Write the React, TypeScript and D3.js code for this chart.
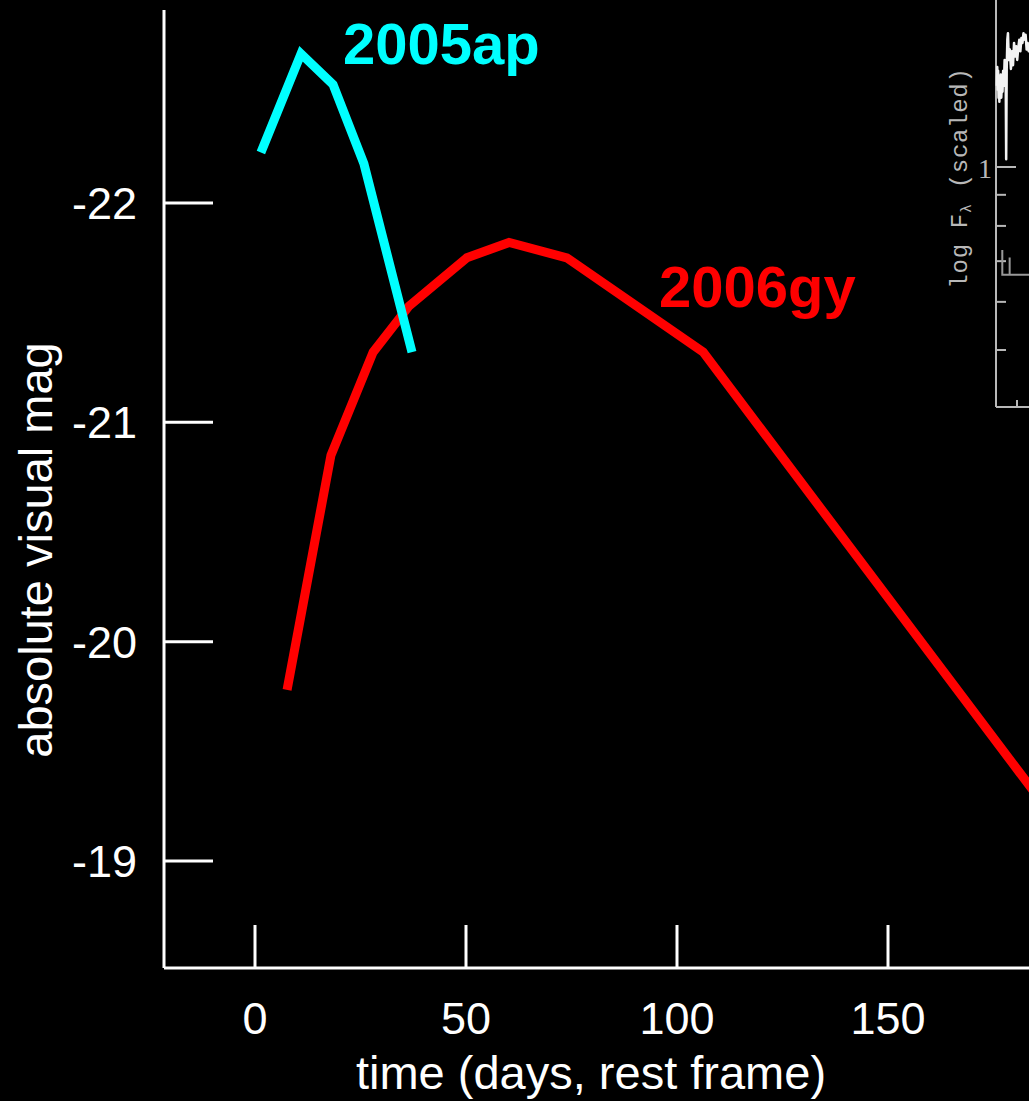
import React from "react";
import * as d3 from "d3";

// Main light curves (days rest frame, absolute visual magnitude)
const sn2006gyDays = [7.6, 18.0, 28.0, 36.5, 50.2, 60.2, 73.9, 106.2, 195];
const sn2006gyMag = [-19.78, -20.85, -21.32, -21.53, -21.75, -21.82, -21.75, -21.32, -19.05];
const sn2005apDays = [1.4, 10.9, 18.5, 25.8, 37.2];
const sn2005apMag = [-22.23, -22.68, -22.54, -22.18, -21.32];

const xTicks = [0, 50, 100, 150];
const yTicks = [-22, -21, -20, -19];

// Inset spectrum (partially visible at right edge)
const specLambda = [3508, 3512, 3516, 3520, 3524, 3528, 3532, 3536, 3540, 3545, 3550, 3556, 3562, 3568, 3575, 3582, 3588, 3592, 3597, 3602, 3608, 3614, 3622, 3632, 3642, 3652, 3662, 3672, 3682, 3692, 3702, 3712, 3722, 3732, 3742, 3752, 3762, 3772, 3782, 3792, 3802, 3812, 3830];
const specFlux = [1.36, 1.46, 1.34, 1.44, 1.30, 1.40, 1.28, 1.38, 1.32, 1.42, 1.30, 1.36, 1.33, 1.44, 1.36, 1.50, 1.40, 1.45, 1.03, 1.45, 1.62, 1.66, 1.50, 1.56, 1.45, 1.55, 1.47, 1.60, 1.52, 1.58, 1.50, 1.57, 1.62, 1.55, 1.63, 1.60, 1.66, 1.62, 1.65, 1.56, 1.60, 1.55, 1.58];
const spec2Lambda = [3560, 3560, 3630, 3630, 3630, 3900];
const spec2Flux = [0.73, 0.665, 0.665, 0.71, 0.665, 0.665];
const insetYTicks = [1, 0.9, 0.8, 0.7, 0.6, 0.5];
const insetXTicks = [3700];

const W = 1029;
const H = 1101;

export default function App() {
  const x = d3.scaleLinear().domain([0, 150]).range([255, 888]);
  const y = d3.scaleLinear().domain([-22, -19]).range([203, 861]);
  const axisX = 164;
  const axisY = 968;
  const topY = 10;

  const line = d3
    .line<[number, number]>()
    .x((d) => x(d[0]))
    .y((d) => y(d[1]));
  const redPts = sn2006gyDays.map((d, i) => [d, sn2006gyMag[i]] as [number, number]);
  const cyanPts = sn2005apDays.map((d, i) => [d, sn2005apMag[i]] as [number, number]);

  // inset scales
  const ix = d3.scaleLinear().domain([3500, 3700]).range([996, 1017]);
  const iy = d3.scaleLog().domain([1, 0.5]).range([167, 350]);
  const specLine = d3
    .line<[number, number]>()
    .x((d) => ix(d[0]))
    .y((d) => iy(d[1]));
  const specPts = specLambda.map((l, i) => [l, specFlux[i]] as [number, number]);
  const spec2Pts = spec2Lambda.map((l, i) => [l, spec2Flux[i]] as [number, number]);
  const insetGray = "#b8b8b8";

  return (
    <svg
      width={W}
      height={H}
      style={{ position: "absolute", left: 0, top: 0, display: "block", background: "#000" }}
      fontFamily="Arial, 'Liberation Sans', Helvetica, sans-serif"
    >
      <rect x={0} y={0} width={W} height={H} fill="#000" />

      {/* Inset spectrum panel */}
      <g>
        <line x1={996} x2={996} y1={0} y2={407} stroke={insetGray} strokeWidth={2} />
        <line x1={996} x2={W} y1={407} y2={407} stroke={insetGray} strokeWidth={2} />
        {insetYTicks.map((t) => (
          <line
            key={t}
            x1={996}
            x2={t === 1 ? 1016 : 1006}
            y1={iy(t)}
            y2={iy(t)}
            stroke={insetGray}
            strokeWidth={2}
          />
        ))}
        {insetXTicks.map((t) => (
          <line key={t} x1={ix(t)} x2={ix(t)} y1={400} y2={407} stroke={insetGray} strokeWidth={2} />
        ))}
        <text x={985} y={iy(1) + 11} fill={insetGray} fontSize={28} fontFamily="'Liberation Serif', 'DejaVu Serif', serif" textAnchor="middle">
          1
        </text>
        <text
          transform="translate(967,178) rotate(-90)"
          fill={insetGray}
          fontSize={24}
          letterSpacing={0.7}
          fontFamily="'Liberation Mono', 'DejaVu Sans Mono', monospace"
          textAnchor="middle"
        >
          log F<tspan fontSize={15} dy={4}>λ</tspan>
          <tspan dy={-4}> (scaled)</tspan>
        </text>
        <path d={specLine(spec2Pts) || ""} fill="none" stroke="#999" strokeWidth={2} />
        <path d={specLine(specPts) || ""} fill="none" stroke="#f2f2f2" strokeWidth={2.5} strokeLinejoin="round" />
      </g>

      {/* axes */}
      <line x1={axisX} x2={axisX} y1={topY} y2={axisY} stroke="#fff" strokeWidth={3} />
      <line x1={axisX} x2={W} y1={axisY} y2={axisY} stroke="#fff" strokeWidth={3} />
      {yTicks.map((t) => (
        <g key={t}>
          <line x1={axisX} x2={213} y1={y(t)} y2={y(t)} stroke="#fff" strokeWidth={3} />
          <text x={137} y={y(t) + 16} fill="#fff" fontSize={45} textAnchor="end">
            {t}
          </text>
        </g>
      ))}
      {xTicks.map((t) => (
        <g key={t}>
          <line x1={x(t)} x2={x(t)} y1={925} y2={axisY} stroke="#fff" strokeWidth={3} />
          <text x={x(t)} y={1034} fill="#fff" fontSize={45} textAnchor="middle">
            {t}
          </text>
        </g>
      ))}
      <text x={591} y={1089} fill="#fff" fontSize={47} textAnchor="middle">
        time (days, rest frame)
      </text>
      <text transform="translate(52,550) rotate(-90)" fill="#fff" fontSize={47} textAnchor="middle">
        absolute visual mag
      </text>

      {/* light curves */}
      <path d={line(redPts) || ""} fill="none" stroke="#ff0000" strokeWidth={9} strokeLinejoin="miter" />
      <path d={line(cyanPts) || ""} fill="none" stroke="#00ffff" strokeWidth={9} strokeLinejoin="miter" />

      <text x={343} y={64} fill="#00ffff" fontSize={58} fontWeight="bold">
        2005ap
      </text>
      <text x={659} y={307} fill="#ff0000" fontSize={58} fontWeight="bold">
        2006gy
      </text>
    </svg>
  );
}
